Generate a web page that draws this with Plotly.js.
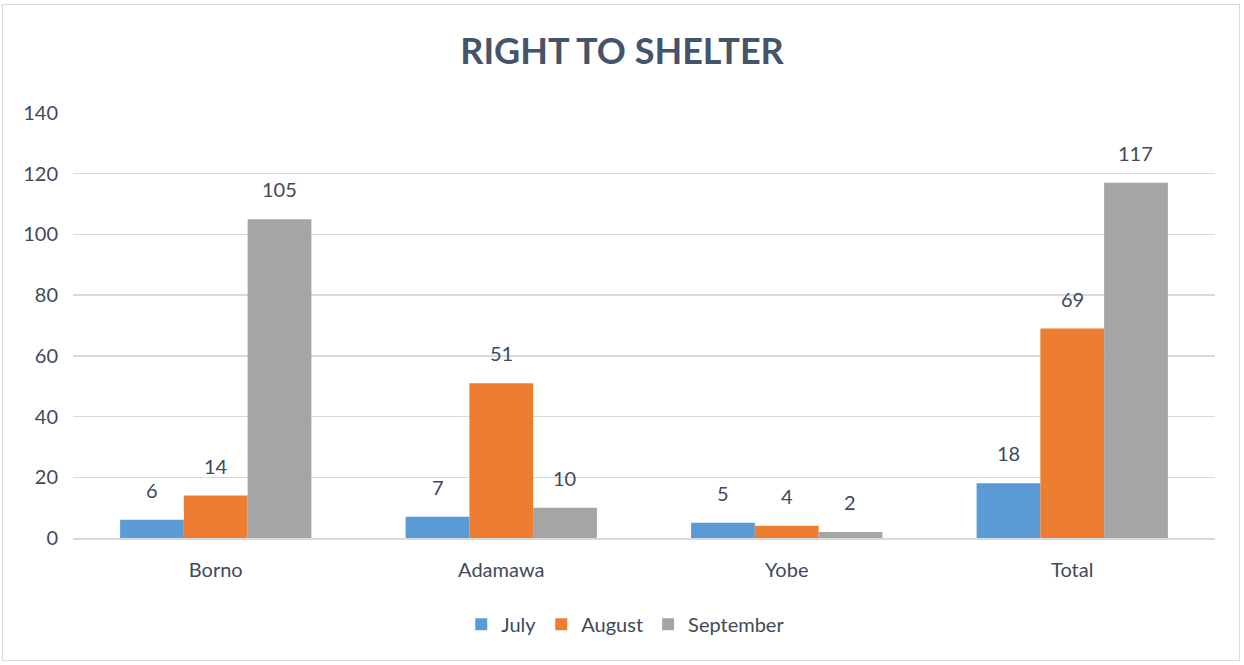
<!DOCTYPE html>
<html>
<head>
<meta charset="utf-8">
<script src="https://cdn.plot.ly/plotly-3.0.1.min.js"></script>
<style>
html,body{margin:0;padding:0;background:#fff;}
#frame{position:absolute;left:2px;top:4px;width:1238px;height:657px;border:1.5px solid #D9D9D9;box-sizing:border-box;pointer-events:none;z-index:5;}
#chart{width:1244px;height:665px;}
</style>
</head>
<body>
<div id="frame"></div>
<div id="chart"></div>
<script>
const categories = ["Borno", "Adamawa", "Yobe", "Total"];
const july = [6, 7, 5, 18];
const august = [14, 51, 4, 69];
const september = [105, 10, 2, 117];
const seriesNames = ["July", "August", "September"];
const colors = ["#5B9BD5", "#ED7D31", "#A5A5A5"];

const font = "Lato, 'Open Sans', sans-serif";
const labelColor = "#404A5A";

const series = [july, august, september];
const data = series.map((vals, i) => ({
  type: "bar",
  name: seriesNames[i],
  x: categories,
  y: vals,
  marker: {color: colors[i]}
}));

// data labels placed above each bar (offset per series within the group)
const barPx = 63.7;
const annotations = [];
series.forEach((vals, i) => {
  vals.forEach((v, j) => {
    annotations.push({
      x: categories[j], y: v, xref: "x", yref: "y",
      text: String(v), showarrow: false,
      xshift: (i - 1) * barPx, yshift: 16,
      yanchor: "bottom", xanchor: "center",
      font: {family: font, size: 20, color: labelColor}
    });
  });
});

const layout = {
  width: 1244,
  height: 665,
  paper_bgcolor: "#fff",
  plot_bgcolor: "#fff",
  margin: {l: 73, r: 29, t: 113, b: 127},
  title: {
    text: "<b>RIGHT TO SHELTER</b>",
    x: 0.5, xanchor: "center",
    y: 0.923, yanchor: "middle",
    font: {family: font, size: 36, color: "#44546A"}
  },
  barmode: "group",
  bargap: 0.33,
  bargroupgap: 0,
  annotations: annotations,
  xaxis: {
    showgrid: false,
    showline: true,
    linecolor: "#D9D9D9",
    linewidth: 1.5,
    ticks: "",
    tickfont: {family: font, size: 20, color: labelColor},
    ticklabelstandoff: 13
  },
  yaxis: {
    range: [0, 140],
    dtick: 20,
    showgrid: true,
    gridcolor: "#D9D9D9",
    gridwidth: 1.5,
    zeroline: false,
    showline: false,
    ticks: "",
    tickfont: {family: font, size: 20, color: labelColor},
    ticklabelstandoff: 14
  },
  legend: {
    orientation: "h",
    x: 0.484, xanchor: "center",
    y: -0.203, yanchor: "middle",
    font: {family: font, size: 20, color: labelColor},
    itemwidth: 30,
    traceorder: "normal"
  },
  showlegend: true
};

Plotly.newPlot("chart", data, layout, {displayModeBar: false, staticPlot: true});
</script>
</body>
</html>
